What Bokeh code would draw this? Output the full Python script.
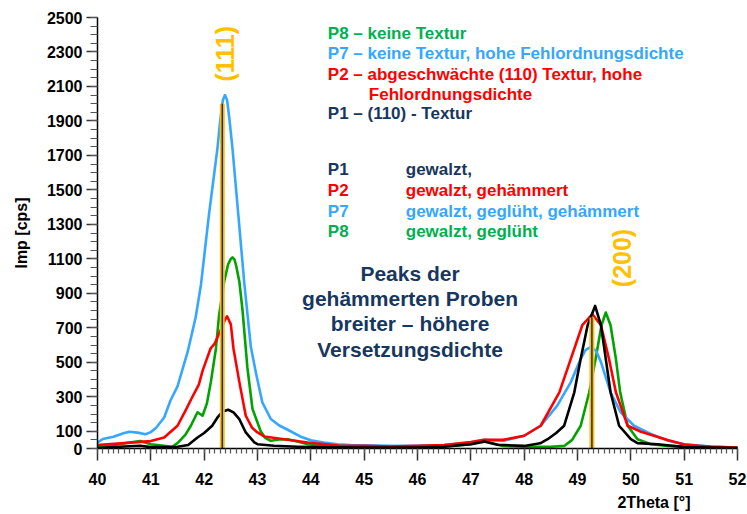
from math import pi

from bokeh.plotting import figure
from bokeh.models import Range1d, FixedTicker, Label, Title
from bokeh.embed import file_html
from bokeh.resources import INLINE

FONT = "Liberation Sans"

# --- diffractogram data: 2Theta [deg] vs. intensity [cps] ---
p1_x = [40.0, 40.5, 40.8, 41.0, 41.5, 41.7, 41.875, 42.0, 42.15, 42.25, 42.35, 42.45, 42.55,
        42.66, 42.78, 42.94, 43.0, 43.31, 43.75, 44.0, 45.0, 46.0, 46.5, 47.0, 47.25, 47.5,
        48.0, 48.3, 48.44, 48.6, 48.75, 48.94, 49.06, 49.19, 49.33, 49.44, 49.53, 49.62,
        49.78, 50.0, 50.125, 50.5, 51.0, 52.0]
p1_y = [3, 12, 16, 8, 10, 20, 64, 90, 132, 180, 215, 225, 210,
        170, 93, 35, 25, 16, 10, 8, 6, 6, 10, 25, 40, 22,
        15, 30, 54, 90, 132, 326, 520, 715, 827, 715, 520, 326,
        132, 54, 31, 25, 8, 3]

p2_x = [40.0, 40.5, 41.0, 41.25, 41.5, 41.65, 41.78, 41.9, 41.97, 42.05, 42.12, 42.2, 42.3,
        42.38, 42.43, 42.5, 42.55, 42.66, 42.78, 42.9, 43.0, 43.125, 43.5, 43.94, 44.56,
        45.0, 45.5, 46.0, 46.5, 47.0, 47.25, 47.6, 48.0, 48.31, 48.66, 48.875, 49.09,
        49.28, 49.44, 49.59, 49.72, 49.94, 50.19, 50.69, 51.0, 51.5, 52.0]
p2_y = [20, 31, 43, 64, 132, 220, 300, 370, 450, 520, 580, 610, 680,
        740, 767, 720, 579, 385, 190, 120, 93, 70, 54, 35, 16,
        15, 12, 15, 20, 38, 50, 50, 74, 132, 326, 520, 715,
        779, 715, 520, 326, 132, 97, 49, 23, 10, 5]

p7_x = [40.0, 40.1, 40.3, 40.5, 40.6, 40.75, 40.9, 41.0, 41.1, 41.25, 41.37, 41.5, 41.69,
        41.84, 41.94, 42.09, 42.25, 42.3, 42.35, 42.39, 42.43, 42.47, 42.53, 42.64, 42.75,
        42.875, 42.97, 43.09, 43.25, 43.4, 43.62, 43.8, 44.0, 44.24, 44.5, 44.75, 45.0, 45.5,
        46.0, 46.5, 47.0, 47.25, 47.62, 48.0, 48.31, 48.62, 48.875, 49.06, 49.15, 49.25,
        49.35, 49.44, 49.62, 49.81, 50.06, 50.375, 50.7, 51.0, 51.5, 52.0]
p7_y = [35, 55, 68, 90, 97, 92, 83, 95, 120, 180, 280, 360, 560,
        760, 950, 1357, 1744, 1900, 2020, 2050, 2020, 1920, 1744, 1357, 967,
        590, 440, 268, 171, 135, 100, 70, 48, 35, 25, 20, 18, 16,
        15, 20, 35, 50, 45, 74, 132, 249, 385, 520, 570, 589,
        565, 501, 326, 210, 132, 84, 45, 25, 12, 6]

p8_x = [40.0, 40.3, 40.6, 40.8, 41.0, 41.25, 41.4, 41.5, 41.65, 41.75, 41.875, 41.97, 42.05,
        42.125, 42.22, 42.28, 42.375, 42.45, 42.5, 42.53, 42.57, 42.6, 42.66, 42.72, 42.81,
        42.906, 43.06, 43.15, 43.25, 43.4, 43.56, 43.75, 43.94, 44.31, 44.75, 45.5, 46.0,
        46.5, 47.0, 47.25, 47.4, 47.6, 48.0, 48.5, 48.75, 48.9, 49.06, 49.22, 49.34, 49.45,
        49.53, 49.62, 49.72, 49.8, 49.94, 50.125, 50.375, 50.7, 51.0, 51.5, 52.0]
p8_y = [5, 20, 35, 43, 25, 16, 10, 31, 80, 132, 210, 190, 260,
        385, 579, 773, 967, 1070, 1100, 1109, 1095, 1060, 967, 800, 470,
        230, 100, 60, 45, 52, 54, 40, 25, 12, 8, 8, 8,
        12, 25, 45, 30, 15, 10, 10, 15, 50, 132, 326, 520, 715,
        789, 715, 520, 326, 132, 54, 25, 15, 12, 8, 5]

# reference line positions and heights (111) and (200)
ref_pos = [42.34, 49.27]
ref_int = [2000, 760]
ref_hkl = ["(111)", "(200)"]

x_ticks = list(range(40, 53))
y_ticks = [0] + list(range(100, 2501, 200))

BLUE = "#35A7FF"
GREEN_LINE = "#00A300"
GREEN_TXT = "#00B050"
RED = "#FF0000"
NAVY = "#17375E"
ORANGE = "#FFC000"

p = figure(width=747, height=514, output_backend="svg", toolbar_location=None,
           x_range=Range1d(40, 52), y_range=Range1d(0, 2500),
           min_border_left=97, min_border_right=10, min_border_top=17,
           min_border_bottom=20)
p.outline_line_color = None
p.xgrid.visible = False
p.ygrid.visible = False
p.background_fill_color = "white"
p.border_fill_color = "white"

xa = p.xaxis[0]
xa.ticker = FixedTicker(ticks=x_ticks, minor_ticks=[40 + i / 10 for i in range(121)])
ya = p.yaxis[0]
ya.ticker = FixedTicker(ticks=y_ticks, minor_ticks=list(range(0, 2501, 50)))
for ax in (xa, ya):
    ax.axis_line_width = 1.5
    ax.axis_line_color = "black"
    ax.major_tick_in = 0
    ax.minor_tick_in = 0
    ax.major_tick_line_width = 1.5
    ax.major_tick_line_color = "#333333"
    ax.minor_tick_line_width = 1.2
    ax.minor_tick_line_color = "#555555"
    ax.major_label_text_font = FONT
    ax.major_label_text_font_style = "bold"
    ax.major_label_text_font_size = "16px"
    ax.major_label_text_color = "black"
xa.major_tick_out = 12
xa.minor_tick_out = 5
xa.major_label_standoff = 12
ya.major_tick_out = 11
ya.minor_tick_out = 7
ya.major_label_standoff = 4
ya.axis_label = "Imp [cps]"
ya.axis_label_text_font = FONT
ya.axis_label_text_font_style = "bold"
ya.axis_label_text_font_size = "16px"
ya.axis_label_text_color = "black"
ya.axis_label_standoff = 14

# x-axis caption, right-aligned under the scale
p.add_layout(Title(text="2Theta [\u00b0]", align="right", offset=47, text_font=FONT,
                   text_font_style="bold", text_font_size="16px", text_color="black",
                   standoff=8), "below")

# measured curves
for xs, ys, col in ((p8_x, p8_y, GREEN_LINE), (p7_x, p7_y, BLUE),
                    (p2_x, p2_y, RED), (p1_x, p1_y, "black")):
    p.line(xs, ys, line_color=col, line_width=2.6, line_join="round", line_cap="round")

# reference sticks
p.segment(x0=ref_pos, y0=[0] * len(ref_pos), x1=ref_pos, y1=ref_int,
          line_color=ORANGE, line_width=5)
p.segment(x0=ref_pos, y0=[0] * len(ref_pos), x1=ref_pos, y1=ref_int,
          line_color="#1A2A80", line_width=1.5)

for hkl, xpos, ypos in zip(ref_hkl, [42.387, 49.84], [2290, 1105]):
    p.add_layout(Label(x=xpos, y=ypos, text=hkl, angle=pi / 2, text_color=ORANGE,
                       text_font=FONT, text_font_style="bold", text_font_size="25px",
                       text_align="center", text_baseline="middle"))


def note(x, y, text, color, size="17px", align="left"):
    p.add_layout(Label(x=x, y=y, text=text, text_color=color, text_font=FONT,
                       text_font_style="bold", text_font_size=size,
                       text_align=align, text_baseline="middle"))


note(44.318, 2409, "P8 \u2013 keine Textur", GREEN_TXT)
note(44.318, 2294, "P7 \u2013 keine Textur, hohe Fehlordnungsdichte", BLUE)
note(44.318, 2172, "P2 \u2013 abgeschw\u00e4chte (110) Textur, hohe", RED)
note(45.087, 2055, "Fehlordnungsdichte", RED)
note(44.318, 1942, "P1 \u2013 (110) - Textur", NAVY)

samples = [("P1", "gewalzt,", NAVY),
           ("P2", "gewalzt, geh\u00e4mmert", RED),
           ("P7", "gewalzt, gegl\u00fcht, geh\u00e4mmert", BLUE),
           ("P8", "gewalzt, gegl\u00fcht", GREEN_TXT)]
for (name, proc, col), yy in zip(samples, [1620, 1498, 1375, 1259]):
    note(44.318, yy, name, col)
    note(45.78, yy, proc, col)

for line, yy in zip(["Peaks der", "geh\u00e4mmerten Proben", "breiter \u2013 h\u00f6here",
                     "Versetzungsdichte"], [1014, 868, 723, 577]):
    note(45.86, yy, line, NAVY, size="21px", align="center")

open("out.html", "w").write(file_html(p, INLINE))
